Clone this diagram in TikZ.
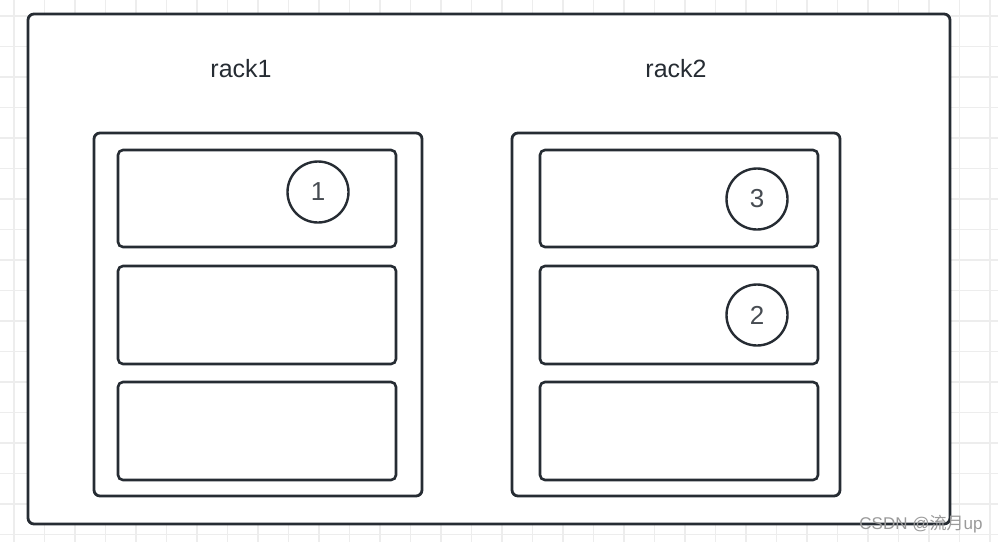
\documentclass[tikz,border=0pt]{standalone}
\usepackage{fontspec}
\setmainfont{Liberation Sans}
\newfontfamily\cjk{Noto Sans CJK SC}
\definecolor{edge}{HTML}{262C33}
\definecolor{gridc}{HTML}{EDEDED}
\definecolor{wm}{HTML}{9A9A9A}
\begin{document}
\begin{tikzpicture}[x=1pt,y=-1pt,
  frame/.style={draw=edge,line width=2.8pt,rounded corners=6pt},
  slot/.style={draw=edge,line width=2.6pt,rounded corners=5pt},
  disk/.style={draw=edge,line width=2.4pt,circle,minimum size=61pt,inner sep=0pt,font=\fontsize{26}{30}\selectfont,text=edge!85},
  lbl/.style={font=\fontsize{25}{30}\selectfont,text=edge}]
\useasboundingbox (0,0) rectangle (998,542);
\fill[white] (0,0) rectangle (998,542);
% grid
\foreach \i in {0,...,32} {\draw[gridc,line width=1.8pt] (14+30.5*\i,0) -- (14+30.5*\i,542);}
\foreach \j in {0,...,17} {\draw[gridc,line width=1.8pt] (0,16+30.5*\j) -- (998,16+30.5*\j);}
% outer box
\draw[frame,fill=white] (28,14) rectangle (950,524);
\node[lbl] (r1) at (241,69) {rack1};
\node[lbl] (r2) at (676,69) {rack2};
% rack1
\draw[frame] (94,133) rectangle (422,496);
\draw[slot] (118,150) rectangle (396,247);
\draw[slot] (118,266) rectangle (396,364);
\draw[slot] (118,382) rectangle (396,480);
% rack2
\draw[frame] (512,133) rectangle (840,496);
\draw[slot] (540,150) rectangle (818,247);
\draw[slot] (540,266) rectangle (818,364);
\draw[slot] (540,382) rectangle (818,480);
% disks
\node[disk] (d1) at (318,192) {1};
\node[disk] (d3) at (757,199) {3};
\node[disk] (d2) at (757,315) {2};
% watermark
\node[text=wm,font=\fontsize{17}{20}\selectfont,anchor=east] (wmk) at (986,524) {CSDN @{\cjk 流月}up};
\end{tikzpicture}
\end{document}
